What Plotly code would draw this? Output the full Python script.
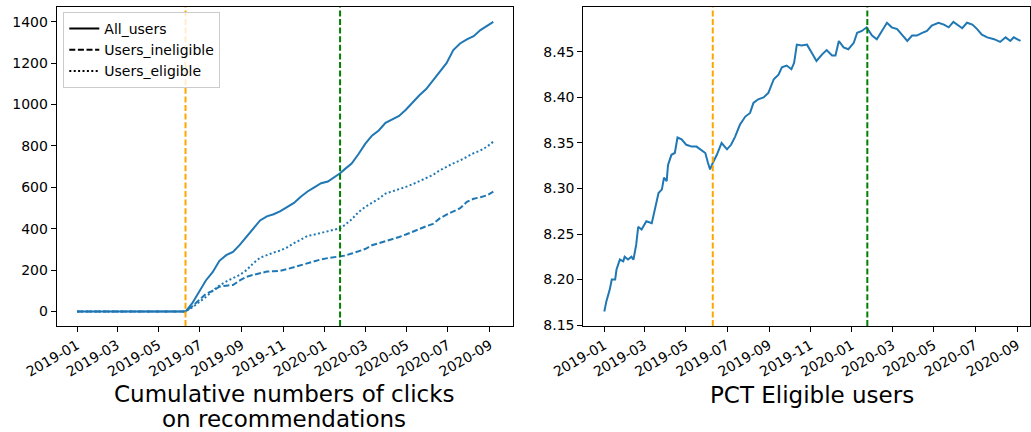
import plotly.graph_objects as go

# ---------------- data ----------------
click_dates = [
    "2019-01-01", "2019-06-10", "2019-06-20", "2019-06-30", "2019-07-10", "2019-07-20",
    "2019-07-30", "2019-08-09", "2019-08-19", "2019-08-29", "2019-09-08", "2019-09-18",
    "2019-09-28", "2019-10-08", "2019-10-18", "2019-10-28", "2019-11-07", "2019-11-17",
    "2019-11-27", "2019-12-07", "2019-12-17", "2019-12-27", "2020-01-06", "2020-01-16",
    "2020-01-24", "2020-01-31", "2020-02-10", "2020-02-20", "2020-03-01", "2020-03-11",
    "2020-03-21", "2020-03-31", "2020-04-10", "2020-04-20", "2020-04-30", "2020-05-10",
    "2020-05-20", "2020-05-30", "2020-06-09", "2020-06-19", "2020-06-29", "2020-07-09",
    "2020-07-19", "2020-07-29", "2020-08-08", "2020-08-18", "2020-08-28", "2020-09-06",
]
all_users = [
    0, 0, 40, 95, 150, 190, 245, 272, 288, 322, 362, 405,
    440, 460, 470, 485, 505, 525, 555, 580, 600, 620, 628, 650,
    668, 688, 715, 760, 810, 850, 875, 912, 930, 945, 975, 1012,
    1045, 1075, 1118, 1160, 1200, 1263, 1295, 1315, 1330, 1360, 1380, 1400,
]
users_ineligible = [
    0, 0, 25, 55, 85, 100, 120, 125, 128, 150, 168, 177,
    185, 193, 195, 197, 205, 215, 222, 232, 243, 252, 258, 263,
    266, 270, 280, 290, 302, 320, 330, 340, 348, 360, 372, 386,
    400, 412, 423, 450, 468, 485, 499, 530, 545, 552, 562, 579,
]
users_eligible = [
    0, 0, 20, 45, 70, 100, 125, 145, 160, 177, 200, 233,
    260, 274, 285, 295, 310, 330, 348, 365, 372, 380, 388, 395,
    402, 418, 445, 480, 505, 525, 545, 570, 580, 592, 602, 615,
    630, 648, 660, 682, 700, 716, 730, 748, 765, 778, 797, 821,
]

pct_dates = [
    "2019-01-01", "2019-01-04", "2019-01-09", "2019-01-12", "2019-01-17", "2019-01-19",
    "2019-01-24", "2019-01-29", "2019-01-31", "2019-02-05", "2019-02-10", "2019-02-13",
    "2019-02-17", "2019-02-20", "2019-02-25", "2019-03-04", "2019-03-12", "2019-03-17",
    "2019-03-22", "2019-03-27", "2019-03-30", "2019-04-03", "2019-04-05", "2019-04-10",
    "2019-04-15", "2019-04-19", "2019-04-25", "2019-05-02", "2019-05-10", "2019-05-17",
    "2019-05-22", "2019-05-30", "2019-06-03", "2019-06-06", "2019-06-10", "2019-06-16",
    "2019-06-23", "2019-07-01", "2019-07-07", "2019-07-13", "2019-07-20", "2019-07-28",
    "2019-08-04", "2019-08-09", "2019-08-16", "2019-08-24", "2019-08-31", "2019-09-08",
    "2019-09-15", "2019-09-20", "2019-09-27", "2019-10-04", "2019-10-08", "2019-10-12",
    "2019-10-19", "2019-10-27", "2019-11-03", "2019-11-10", "2019-11-18", "2019-11-25",
    "2019-12-03", "2019-12-08", "2019-12-13", "2019-12-20", "2019-12-27", "2020-01-04",
    "2020-01-09", "2020-01-16", "2020-01-23", "2020-01-31", "2020-02-07", "2020-02-15",
    "2020-02-22", "2020-02-29", "2020-03-08", "2020-03-15", "2020-03-23", "2020-03-30",
    "2020-04-06", "2020-04-14", "2020-04-21", "2020-04-28", "2020-05-08", "2020-05-16",
    "2020-05-23", "2020-05-30", "2020-06-07", "2020-06-12", "2020-06-19", "2020-06-27",
    "2020-07-04", "2020-07-11", "2020-07-19", "2020-07-29", "2020-08-07", "2020-08-15",
    "2020-08-22", "2020-08-27", "2020-09-06",
]
pct_eligible = [
    8.165, 8.176, 8.189, 8.200, 8.200, 8.211,
    8.222, 8.220, 8.225, 8.222, 8.225, 8.222,
    8.238, 8.258, 8.255, 8.264, 8.262, 8.277,
    8.295, 8.299, 8.312, 8.308, 8.326, 8.337,
    8.339, 8.356, 8.354, 8.348, 8.346, 8.346,
    8.343, 8.339, 8.328, 8.321, 8.328, 8.337,
    8.350, 8.343, 8.348, 8.357, 8.370, 8.379,
    8.383, 8.394, 8.398, 8.400, 8.405, 8.420,
    8.425, 8.433, 8.435, 8.431, 8.438, 8.458,
    8.457, 8.458, 8.449, 8.440, 8.447, 8.452,
    8.446, 8.446, 8.462, 8.455, 8.453, 8.460,
    8.471, 8.473, 8.477, 8.468, 8.464, 8.473,
    8.482, 8.477, 8.475, 8.469, 8.462, 8.468,
    8.468, 8.471, 8.473, 8.479, 8.482, 8.480,
    8.477, 8.483, 8.479, 8.476, 8.482, 8.480,
    8.475, 8.469, 8.466, 8.464, 8.461, 8.466,
    8.462, 8.466, 8.462,
]

event_dates = ["2019-06-10", "2020-01-24"]
event_colors = ["#FFA500", "#008000"]

left_title = ["Cumulative numbers of clicks", "on recommendations"]
right_title = "PCT Eligible users"
legend_names = ["All_users", "Users_ineligible", "Users_eligible"]

# ---------------- figure ----------------
W, H = 1031, 432
BLUE = "#1f77b4"
FONT = "DejaVu Sans"
DASH = "6px,2.6px"
DOT = "2px,2.4px"
TITLE_SIZE = 23

fig = go.Figure()

styles = [("solid", all_users), (DASH, users_ineligible), (DOT, users_eligible)]
for (dash, vals), name in zip(styles, legend_names):
    fig.add_trace(go.Scatter(x=click_dates, y=vals, mode="lines", name=name,
                             line=dict(color=BLUE, width=2, dash=dash),
                             showlegend=False, xaxis="x", yaxis="y"))
# legend handles (black lines like matplotlib's custom handles)
for (dash, _), name in zip(styles, legend_names):
    fig.add_trace(go.Scatter(x=[None], y=[None], mode="lines", name=name,
                             line=dict(color="black", width=2, dash=dash),
                             showlegend=True, xaxis="x", yaxis="y"))

fig.add_trace(go.Scatter(x=pct_dates, y=pct_eligible, mode="lines",
                         line=dict(color=BLUE, width=2), showlegend=False,
                         xaxis="x2", yaxis="y2"))

shapes = []
for xr, yr in (("x", "y domain"), ("x2", "y2 domain")):
    for d, c in zip(event_dates, event_colors):
        shapes.append(dict(type="line", xref=xr, yref=yr, x0=d, x1=d, y0=0, y1=1,
                           line=dict(color=c, width=2, dash="6px,2.6px")))

axis_common = dict(showgrid=False, zeroline=False, showline=True, mirror=True,
                   linecolor="black", linewidth=1, ticks="outside", ticklen=5,
                   tickwidth=1, tickcolor="black", automargin=False,
                   tickfont=dict(family=FONT, size=14, color="black"))
xdate = dict(type="date", tickformat="%Y-%m", dtick="M2", tick0="2019-01-01",
             tickangle=-30)

ydom = [1 - 326 / H, 1 - 7.3 / H]

fig.update_layout(
    width=W, height=H,
    margin=dict(l=0, r=0, t=0, b=0),
    paper_bgcolor="white", plot_bgcolor="white",
    font=dict(family=FONT, size=14, color="black"),
    shapes=shapes,
    xaxis=dict(**axis_common, **xdate, domain=[56.7 / W, 513.3 / W],
               range=["2018-12-02", "2020-10-05 12:00"], anchor="y"),
    yaxis=dict(**axis_common, domain=ydom, range=[-70, 1470],
               tickvals=[0, 200, 400, 600, 800, 1000, 1200, 1400], anchor="x"),
    xaxis2=dict(**axis_common, **xdate, domain=[583.3 / W, 1030 / W],
                range=["2018-12-01", "2020-09-20"], anchor="y2"),
    yaxis2=dict(**axis_common, domain=ydom, range=[8.149, 8.499],
                tickvals=[8.15, 8.20, 8.25, 8.30, 8.35, 8.40, 8.45],
                tickformat=".2f", anchor="x2"),
    legend=dict(x=63.3 / W, y=1 - 12 / H, xanchor="left", yanchor="top",
                bgcolor="rgba(255,255,255,0.8)", bordercolor="#cccccc",
                borderwidth=1, font=dict(family=FONT, size=14, color="black"),
                itemwidth=30, tracegroupgap=0),
    annotations=[
        dict(text=left_title[0], xref="paper", yref="paper", x=284 / W,
             y=1 - 393.5 / H, xanchor="center", yanchor="middle", showarrow=False,
             font=dict(family=FONT, size=TITLE_SIZE, color="black")),
        dict(text=left_title[1], xref="paper", yref="paper", x=284 / W,
             y=1 - 419 / H, xanchor="center", yanchor="middle", showarrow=False,
             font=dict(family=FONT, size=TITLE_SIZE, color="black")),
        dict(text=right_title, xref="paper", yref="paper", x=811.7 / W,
             y=1 - 395 / H, xanchor="center", yanchor="middle", showarrow=False,
             font=dict(family=FONT, size=TITLE_SIZE, color="black")),
    ],
)

fig.write_html(
    "out.html",
    config={"displayModeBar": False},
    post_script="document.body.style.margin='0px';document.body.style.overflow='hidden';",
)
